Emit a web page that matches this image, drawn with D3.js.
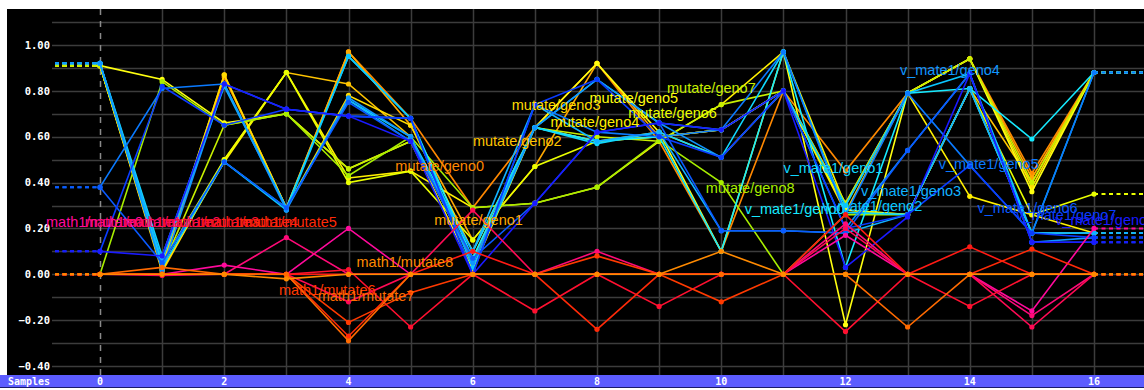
<!DOCTYPE html>
<html>
<head>
<meta charset="utf-8">
<script src="https://cdn.jsdelivr.net/npm/d3@7"></script>
<style>
  body { margin: 0; background: #fff; }
  svg { display: block; }
</style>
</head>
<body>
<svg id="chart" width="1144" height="390"></svg>
<script>
// sample index along x
var samples = d3.range(0, 17);
var xTickValues = [0, 2, 4, 6, 8, 10, 12, 14, 16];
var yTickValues = [-0.4, -0.2, 0, 0.2, 0.4, 0.6, 0.8, 1.0];

// math1/mutate0..8
var mathNames = d3.range(9).map(function (i) { return "math1/mutate" + i; });
var mathValues = [
    [0, 0, 0.04, 0, 0.20, 0, 0, 0, 0, 0, 0, 0, 0.17, 0, 0, -0.16, 0.20],
    [0, 0, 0, 0.16, 0, 0, 0, 0, 0.10, 0, 0, 0, 0.22, 0, 0, -0.18, 0],
    [0, -0.005, 0, 0, -0.12, 0, 0.28, 0, 0, 0, 0, 0, 0.20, 0, 0, -0.23, 0],
    [0, 0, 0, 0, 0.02, -0.23, 0, -0.16, 0, -0.14, 0, 0, -0.25, 0, -0.14, 0, 0],
    [0, 0, 0, 0, 0, 0, 0.10, 0, 0, 0, 0, 0, 0.26, 0, 0.12, 0, 0],
    [0, 0, 0, 0, -0.27, 0, 0, 0, -0.24, 0, 0, 0, 0, 0, 0, 0.11, 0],
    [0, 0, 0, 0, -0.21, -0.08, 0, 0, 0.08, 0, -0.12, 0, 0, 0, 0, 0, 0],
    [0, 0.03, 0, 0, -0.29, 0, 0, 0, 0, 0, 0, 0, 0, -0.23, 0, 0, 0],
    [0, 0, 0, -0.02, 0, 0, 0, 0, 0, 0, 0.10, 0, 0, 0, 0, 0, 0]
];
var mathLabelValues = [0.227, 0.227, 0.227, 0.227, 0.227, 0.227, -0.07, -0.096, 0.052];

// mutate/geno0..8
var mutateNames = d3.range(9).map(function (i) { return "mutate/geno" + i; });
var mutateValues = [
    [0.91, 0.02, 0.86, 0.29, 0.97, 0.68, 0.29, 0.64, 0.92, 0.58, 0.10, 0.80, 0.45, 0.79, 0.94, 0.44, 0.88],
    [0.91, 0.03, 0.87, 0.29, 0.97, 0.65, 0.15, 0.47, 0.92, 0.60, 0.63, 0.80, 0.31, 0.79, 0.94, 0.42, 0.88],
    [0.91, 0.01, 0.50, 0.88, 0.83, 0.60, 0.05, 0.64, 0.58, 0.62, 0.51, 0.80, 0.28, 0.26, 0.81, 0.40, 0.88],
    [0.91, 0.04, 0.87, 0.29, 0.78, 0.65, 0.10, 0.64, 0.58, 0.60, 0.63, 0.80, 0.27, 0.79, 0.94, 0.38, 0.88],
    [0.91, 0.02, 0.49, 0.88, 0.42, 0.45, 0.29, 0.31, 0.38, 0.58, 0.74, 0.97, 0.30, 0.79, 0.34, 0.26, 0.18],
    [0.91, 0.85, 0.66, 0.70, 0.46, 0.58, 0.02, 0.64, 0.92, 0.62, 0.10, 0.97, -0.22, 0.79, 0.94, 0.36, 0.88],
    [0.91, 0.05, 0.50, 0.88, 0.40, 0.45, 0.15, 0.47, 0.58, 0.60, 0.63, 0.80, 0.28, 0.26, 0.81, 0.26, 0.35],
    [0.91, 0.03, 0.65, 0.70, 0.46, 0.58, 0.07, 0.64, 0.60, 0.58, 0.74, 0.80, 0.31, 0.79, 0.94, 0.40, 0.88],
    [0, 0.84, 0.65, 0.70, 0.43, 0.60, 0.29, 0.31, 0.38, 0.585, 0.40, 0.00, 0.26, 0.26, 0.81, 0.18, 0.18]
];
var mutateLabelValues = [0.474, 0.235, 0.583, 0.739, 0.665, 0.77, 0.704, 0.813, 0.378];

// v_mate1/geno0..8
var mateNames = d3.range(9).map(function (i) { return "v_mate1/geno" + i; });
var mateValues = [
    [0.92, 0.05, 0.49, 0.29, 0.95, 0.68, 0.07, 0.64, 0.58, 0.60, 0.10, 0.97, 0.03, 0.79, 0.81, 0.59, 0.88],
    [0.92, 0.08, 0.83, 0.29, 0.76, 0.60, 0.10, 0.64, 0.57, 0.62, 0.51, 0.97, 0.27, 0.26, 0.81, 0.18, 0.18],
    [0.92, 0.03, 0.49, 0.28, 0.95, 0.68, 0.03, 0.64, 0.85, 0.66, 0.63, 0.80, 0.30, 0.79, 0.875, 0.18, 0.88],
    [0.92, 0.06, 0.82, 0.29, 0.76, 0.58, 0.10, 0.74, 0.58, 0.62, 0.19, 0.19, 0.18, 0.26, 0.81, 0.18, 0.18],
    [0.92, 0.02, 0.83, 0.28, 0.77, 0.60, 0.05, 0.64, 0.85, 0.66, 0.51, 0.80, 0.20, 0.54, 0.875, 0.14, 0.16],
    [0.38, 0.81, 0.83, 0.72, 0.69, 0.68, 0.00, 0.74, 0.62, 0.60, 0.63, 0.97, 0.26, 0.79, 0.475, 0.18, 0.88],
    [0.38, 0.05, 0.49, 0.29, 0.75, 0.58, 0.07, 0.31, 0.62, 0.66, 0.19, 0.19, 0.18, 0.54, 0.875, 0.14, 0.14],
    [0.10, 0.82, 0.65, 0.72, 0.69, 0.68, 0.00, 0.74, 0.85, 0.60, 0.51, 0.80, 0.20, 0.26, 0.475, 0.18, 0.16],
    [0.10, 0.08, 0.83, 0.72, 0.69, 0.58, 0.00, 0.31, 0.62, 0.66, 0.63, 0.80, 0.03, 0.25, 0.875, 0.14, 0.14]
];
var mateLabelValues = [0.287, 0.465, 0.30, 0.365, 0.891, 0.483, 0.291, 0.257, 0.235];

var mathColors = ["#ff0a9c", "#ff0a78", "#ff0a55", "#ff1030", "#ff1a14", "#ff2a08", "#ff3a00", "#ff6a00", "#ff8a00"];
var mutateColors = ["#ff8800", "#ffa800", "#ffc400", "#ffdc00", "#fff000", "#ffff10", "#eaff00", "#c8f000", "#a8ee00"];
var mateColors = ["#16eaff", "#10d8ff", "#0ac6ff", "#12b2ff", "#1096ff", "#0a7aff", "#0a5aff", "#0a3cff", "#1a1aff"];

function build(names, values, colors, labelValues) {
    return names.map(function (n, i) {
        return { name: n, values: values[i], color: colors[i], labelValue: labelValues[i] };
    });
}
var series = []
    .concat(build(mathNames, mathValues, mathColors, mathLabelValues))
    .concat(build(mutateNames, mutateValues, mutateColors, mutateLabelValues))
    .concat(build(mateNames, mateValues, mateColors, mateLabelValues));

var svg = d3.select("#chart");
var plot = { left: 7, top: 9, right: 1144, bottom: 375 };

var x = d3.scaleLinear().domain([0, 16]).range([100, 1094]);
var y = d3.scaleLinear().domain([-0.4, 1.0]).range([366, 45]);
// label slots run across the whole sample range
var labelX = d3.scaleLinear().domain([0, 27]).range([46, 1094]);

svg.append("rect")
    .attr("x", plot.left).attr("y", plot.top)
    .attr("width", plot.right - plot.left).attr("height", plot.bottom - plot.top)
    .attr("fill", "#000");

// grid
var grid = svg.append("g");
grid.selectAll("line.h")
    .data(d3.range(-4, 12).map(function (d) { return d / 10; }))
    .enter().append("line")
    .attr("x1", 52).attr("x2", plot.right)
    .attr("y1", function (d) { return Math.round(y(d)) + 0.5; })
    .attr("y2", function (d) { return Math.round(y(d)) + 0.5; })
    .attr("stroke", "#3c3c3c").attr("stroke-width", 1.5);
grid.selectAll("line.v")
    .data(samples)
    .enter().append("line")
    .attr("x1", function (d) { return Math.round(x(d)) + 0.5; })
    .attr("x2", function (d) { return Math.round(x(d)) + 0.5; })
    .attr("y1", plot.top).attr("y2", plot.bottom)
    .attr("stroke", function (d) { return d === 0 ? "#8a8a8a" : "#3c3c3c"; })
    .attr("stroke-dasharray", function (d) { return d === 0 ? "6,6" : null; })
    .attr("stroke-width", 1.5);

// y axis labels
svg.append("g").selectAll("text")
    .data(yTickValues)
    .enter().append("text")
    .attr("x", 50)
    .attr("y", function (d) { return y(d); })
    .attr("dy", "0.35em")
    .attr("text-anchor", "end")
    .attr("fill", "#fff")
    .style("font", "bold 10.5px 'DejaVu Sans Mono', monospace")
    .text(d3.format(".2f"));

// x axis band
svg.append("rect")
    .attr("x", 0).attr("y", plot.bottom)
    .attr("width", 1144).attr("height", 12)
    .attr("fill", "#5c5cff");
svg.append("line")
    .attr("x1", 0).attr("x2", 1144).attr("y1", 387.5).attr("y2", 387.5)
    .attr("stroke", "#1a1a6a").attr("stroke-width", 1);
svg.append("text")
    .attr("x", 8).attr("y", 381).attr("dy", "0.35em")
    .attr("fill", "#fff")
    .style("font", "bold 10px 'DejaVu Sans Mono', monospace")
    .text("Samples");
svg.append("g").selectAll("text")
    .data(xTickValues)
    .enter().append("text")
    .attr("x", function (d) { return x(d); })
    .attr("y", 381).attr("dy", "0.35em")
    .attr("text-anchor", "middle")
    .attr("fill", "#fff")
    .style("font", "bold 10px 'DejaVu Sans Mono', monospace")
    .text(function (d) { return d; });

var line = d3.line()
    .x(function (d, i) { return x(i); })
    .y(function (d) { return y(d); });

// draw order: mutate, v_mate, then math on top
var drawOrder = series.slice(9).concat(series.slice(0, 9));

var lines = svg.append("g");
drawOrder.forEach(function (s) {
    var g = lines.append("g");
    var first = s.values[0], last = s.values[s.values.length - 1];
    g.append("line")
        .attr("x1", 55).attr("x2", x(0))
        .attr("y1", y(first)).attr("y2", y(first))
        .attr("stroke", s.color).attr("stroke-width", 2)
        .attr("stroke-dasharray", "4,3.5");
    g.append("line")
        .attr("x1", x(16)).attr("x2", plot.right)
        .attr("y1", y(last)).attr("y2", y(last))
        .attr("stroke", s.color).attr("stroke-width", 2)
        .attr("stroke-dasharray", "4,3.5");
    g.append("path")
        .datum(s.values)
        .attr("d", line)
        .attr("fill", "none")
        .attr("stroke", s.color)
        .attr("stroke-width", 1.6);
    g.selectAll("circle")
        .data(s.values)
        .enter().append("circle")
        .attr("cx", function (d, i) { return x(i); })
        .attr("cy", function (d) { return y(d); })
        .attr("r", 2.6)
        .attr("fill", s.color);
});

// series labels
svg.append("g").selectAll("text")
    .data(series)
    .enter().append("text")
    .attr("x", function (d, i) { return labelX(i); })
    .attr("y", function (d) { return y(d.labelValue); })
    .attr("dy", "0.35em")
    .attr("fill", function (d) { return d.color; })
    .style("font", "14.5px 'Liberation Sans', Arial, sans-serif")
    .text(function (d) { return d.name; });
</script>
</body>
</html>
